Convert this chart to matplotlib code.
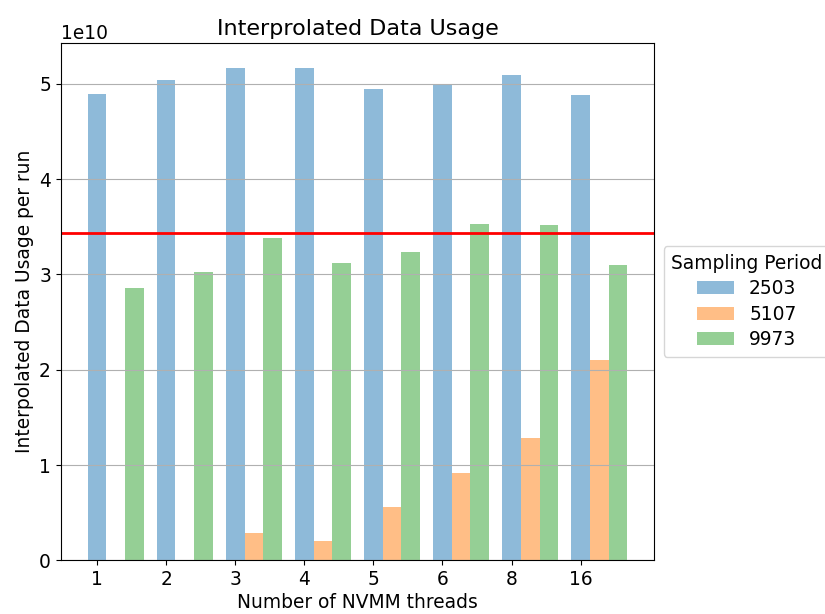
import numpy as np
import matplotlib
matplotlib.use("Agg")
import matplotlib.pyplot as plt

threads = ["1", "2", "3", "4", "5", "6", "8", "16"]
periods = ["2503", "5107", "9973"]
usage_2503 = [4.892e10, 5.042e10, 5.165e10, 5.171e10, 4.951e10, 4.997e10, 5.091e10, 4.885e10]
usage_5107 = [0.0, 0.0, 0.290e10, 0.203e10, 0.560e10, 0.916e10, 1.284e10, 2.103e10]
usage_9973 = [2.858e10, 3.026e10, 3.383e10, 3.118e10, 3.236e10, 3.527e10, 3.520e10, 3.100e10]
reference_line = 3.436e10


def main():
    fig = plt.figure(figsize=(8.25, 6.14), dpi=100)
    ax = fig.add_axes([0.0736, 0.0875, 0.7195, 0.8425])

    x = np.arange(len(threads))
    width = 0.27
    series = [usage_2503, usage_5107, usage_9973]
    colors = ["tab:blue", "tab:orange", "tab:green"]
    for i, (label, vals, c) in enumerate(zip(periods, series, colors)):
        ax.bar(x + i * width, vals, width, label=label, color=c, alpha=0.5)

    ax.axhline(reference_line, color="red", linewidth=2)

    ax.set_xticks(x)
    ax.set_xticklabels(threads)
    ax.yaxis.grid(True, color="#b0b0b0")
    ax.set_title("Interprolated Data Usage", fontsize=16)
    ax.set_xlabel("Number of NVMM threads", fontsize=13.4, labelpad=3)
    ax.set_ylabel("Interpolated Data Usage per run", fontsize=13.4)
    ax.tick_params(labelsize=13.4)
    ax.yaxis.get_offset_text().set_fontsize(13.4)
    ax.legend(title="Sampling Period", loc="center left", bbox_to_anchor=(1.0, 0.5),
              fontsize=13.4, title_fontsize=13.4, labelspacing=0.35)

    fig.savefig("out.png", dpi=100)
    plt.close(fig)


if __name__ == "__main__":
    main()
